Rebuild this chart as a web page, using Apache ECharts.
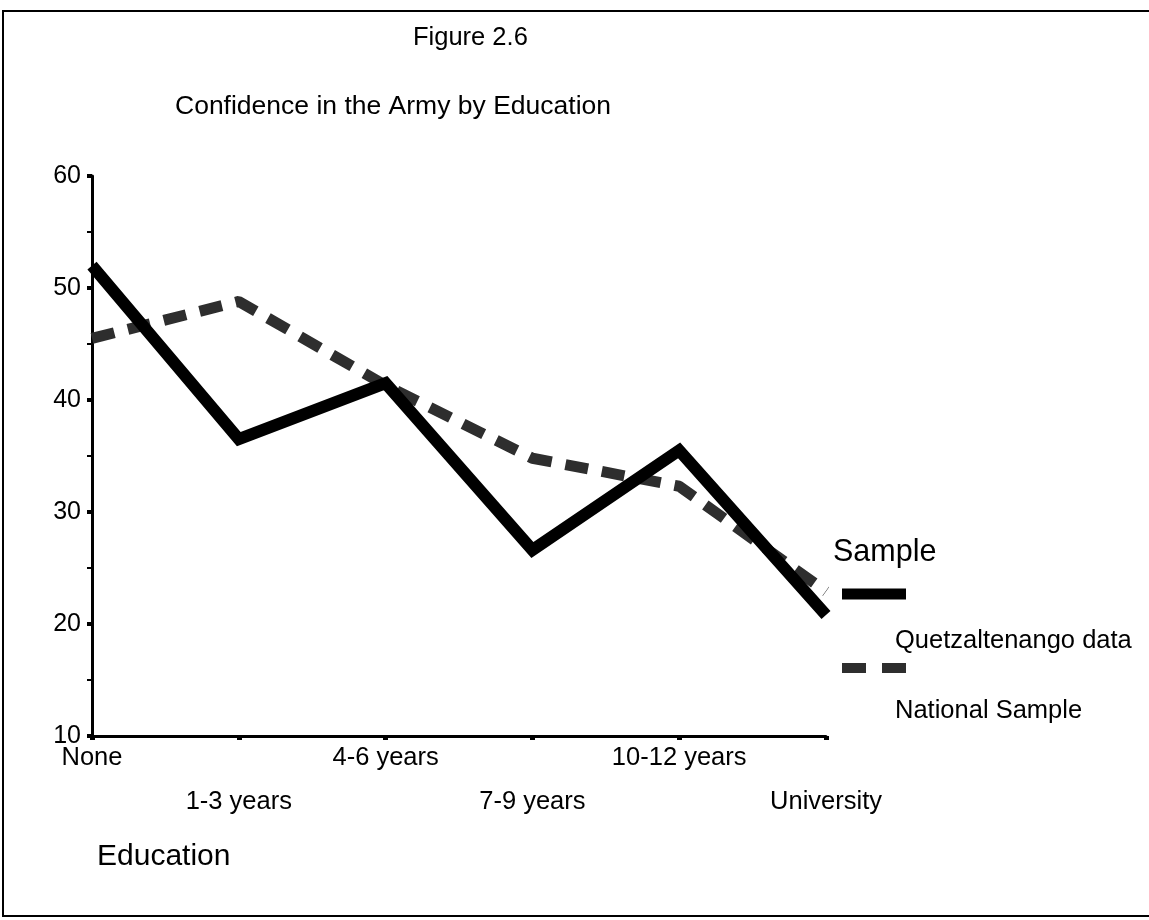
<!DOCTYPE html>
<html>
<head>
<meta charset="utf-8">
<script src="https://cdn.jsdelivr.net/npm/echarts@6/dist/echarts.min.js"></script>
<style>
html, body { margin: 0; padding: 0; background: #fff; }
#chart { width: 1149px; height: 920px; }
</style>
</head>
<body>
<div id="chart"></div>
<script>
// data
var categories = ['None', '1-3 years', '4-6 years', '7-9 years', '10-12 years', 'University'];
var quetzaltenango = [52, 36.5, 41.5, 26.6, 35.5, 20.8];
var national = [45.5, 48.8, 41.3, 34.8, 32.3, 22.9];
var seriesNames = ['Quetzaltenango data', 'National Sample'];
var yTicks = [10, 20, 30, 40, 50, 60];

var font = 'Liberation Sans, Arial, Helvetica, sans-serif';
var dom = document.getElementById('chart');
var myChart = echarts.init(dom);

var option = {
    backgroundColor: '#fff',
    animation: false,
    grid: {
        left: 92,
        right: 323,
        top: 176,
        bottom: 184
    },
    xAxis: {
        type: 'category',
        data: categories,
        boundaryGap: false,
        axisLine: { lineStyle: { color: '#000', width: 3 } },
        axisTick: { show: true, alignWithLabel: true, length: 4, lineStyle: { color: '#000', width: 5 } },
        axisLabel: {
            interval: 0,
            margin: 0,
            color: '#000',
            fontFamily: font,
            fontSize: 25.5,
            lineHeight: 44,
            // every second label sits on a lower row
            formatter: function (v, i) {
                return (i % 2 === 1 ? '\n' : '') + v;
            }
        },
        splitLine: { show: false }
    },
    yAxis: {
        type: 'value',
        min: yTicks[0],
        max: yTicks[yTicks.length - 1],
        interval: 10,
        axisLine: { show: true, lineStyle: { color: '#000', width: 3 } },
        axisTick: { show: true, length: 5, lineStyle: { color: '#000', width: 4 } },
        minorTick: { show: true, splitNumber: 2, length: 5, lineStyle: { color: '#000', width: 2 } },
        axisLabel: {
            margin: 11,
            color: '#000',
            fontFamily: font,
            fontSize: 25
        },
        splitLine: { show: false }
    },
    graphic: [
        // frame
        { type: 'rect', shape: { x: 3, y: 11, width: 1150, height: 905 },
          style: { fill: 'none', stroke: '#000', lineWidth: 2 } },
        { type: 'text', left: 413, top: 25,
          style: { text: 'Figure 2.6', font: '25.5px ' + font, fill: '#000' } },
        { type: 'text', left: 175, top: 93,
          style: { text: 'Confidence in the Army by Education', font: '26.5px ' + font, fill: '#000' } },
        { type: 'text', left: 97, top: 842,
          style: { text: 'Education', font: '30px ' + font, fill: '#000' } },
        // legend
        { type: 'text', left: 833, top: 537,
          style: { text: 'Sample', font: '30.5px ' + font, fill: '#000' } },
        { type: 'line', shape: { x1: 842, y1: 594, x2: 906, y2: 594 },
          style: { stroke: '#000', lineWidth: 11 } },
        { type: 'text', left: 895, top: 628,
          style: { text: seriesNames[0], font: '25.5px ' + font, fill: '#000' } },
        { type: 'line', shape: { x1: 842, y1: 668, x2: 906, y2: 668 },
          style: { stroke: '#2e2e2e', lineWidth: 10, lineDash: [24, 16] } },
        { type: 'text', left: 895, top: 698,
          style: { text: seriesNames[1], font: '25.5px ' + font, fill: '#000' } }
    ],
    series: [
        {
            name: seriesNames[1],
            type: 'line',
            data: national,
            symbol: 'none',
            lineStyle: { color: '#2e2e2e', width: 11, type: [23, 14], cap: 'butt' },
            z: 2
        },
        {
            name: seriesNames[0],
            type: 'line',
            data: quetzaltenango,
            symbol: 'none',
            lineStyle: { color: '#000', width: 12, join: 'miter' },
            z: 3
        }
    ]
};
myChart.setOption(option);
window.onresize = myChart.resize;
</script>
</body>
</html>
